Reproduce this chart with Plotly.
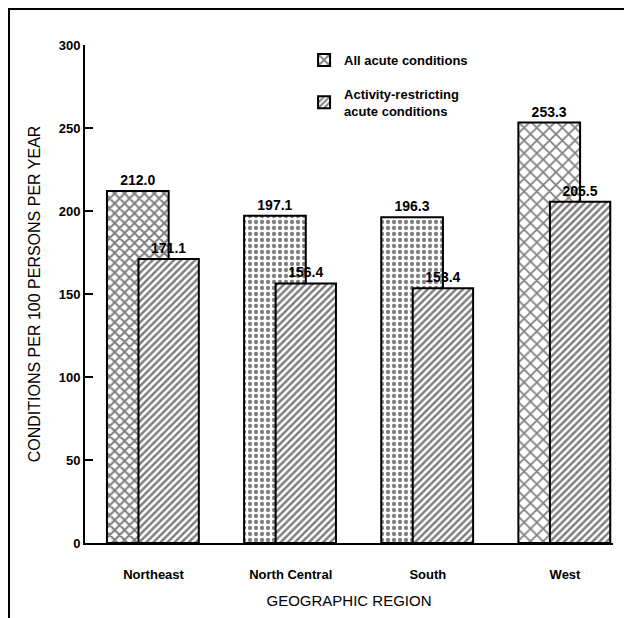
import plotly.graph_objects as go

regions = ["Northeast", "North Central", "South", "West"]
all_acute = [212.0, 197.1, 196.3, 253.3]
activity_restricting = [171.1, 156.4, 153.4, 205.5]
y_ticks = [0, 50, 100, 150, 200, 250, 300]
series_names = ["All acute conditions", "Activity-restricting<br>acute conditions"]

BOLD = "Liberation Sans, Arial, sans-serif"
REG = "Liberation Sans, Arial, sans-serif"

fig = go.Figure()
fig.add_trace(go.Bar(
    x=regions, y=all_acute, name=series_names[0], legendgroup="all",
    width=0.45, offset=-0.34,
    marker=dict(color="white", line=dict(color="black", width=2),
                pattern=dict(shape=["x", ".", ".", "x"], size=[7, 6, 6, 9],
                             solidity=[0.5, 0.4, 0.4, 0.35],
                             fgcolor="black", bgcolor="white")),
    text=[f"{v:.1f}" for v in all_acute], textposition="outside",
    textfont=dict(family=BOLD, size=14, color="black", weight="bold"),
    constraintext="none", cliponaxis=False,
))
fig.add_trace(go.Bar(
    x=regions, y=activity_restricting, name=series_names[1], legendgroup="act",
    width=0.44, offset=-0.11,
    marker=dict(color="white", line=dict(color="black", width=2),
                pattern=dict(shape="/", size=5, solidity=0.5,
                             fgcolor="black", bgcolor="white")),
    text=[f"{v:.1f}" for v in activity_restricting], textposition="outside",
    textfont=dict(family=BOLD, size=14, color="black", weight="bold"),
    constraintext="none", cliponaxis=False,
))

fig.update_layout(
    width=632, height=618,
    margin=dict(l=77, r=27, t=37, b=83),
    barmode="overlay",
    plot_bgcolor="white", paper_bgcolor="white",
    font=dict(family=BOLD, size=13, color="black"),
    legend=dict(x=0.735, y=1.0, xanchor="right", yanchor="top",
                font=dict(family=BOLD, size=13, color="black", weight="bold"),
                bgcolor="rgba(0,0,0,0)", traceorder="grouped", tracegroupgap=14),
    showlegend=True,
    shapes=[dict(type="rect", xref="paper", yref="paper",
                 x0=-0.1439, x1=1.034, y0=-0.19, y1=1.0723,
                 line=dict(color="black", width=2), fillcolor="rgba(0,0,0,0)",
                 layer="below")],
)
fig.update_xaxes(
    range=[-0.5, 3.35], showline=True, linecolor="black", linewidth=2,
    ticks="", showgrid=False, zeroline=False, automargin=False,
    tickfont=dict(family=BOLD, size=13, color="black", weight="bold"),
    ticklabelstandoff=18,
    title=dict(text="GEOGRAPHIC REGION", standoff=15,
               font=dict(family=REG, size=15, color="black")),
)
fig.update_yaxes(
    range=[0, 300], tickvals=y_ticks, showline=True, linecolor="black", linewidth=2,
    ticks="inside", ticklen=8, tickwidth=2, tickcolor="black",
    showgrid=False, zeroline=False, automargin=False,
    tickfont=dict(family=BOLD, size=13, color="black", weight="bold"),
    title=dict(text="CONDITIONS PER 100 PERSONS PER YEAR", standoff=14,
               font=dict(family=REG, size=16, color="black")),
)

fig.write_html("out.html")
